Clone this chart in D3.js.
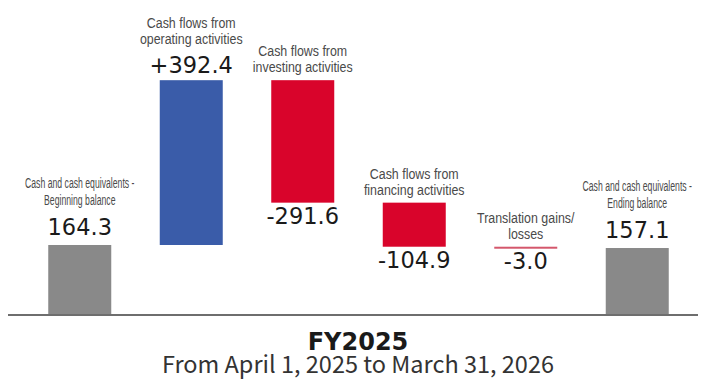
<!DOCTYPE html>
<html>
<head>
<meta charset="utf-8">
<script src="https://cdn.jsdelivr.net/npm/d3@7"></script>
<style>
  body { margin: 0; background: #fff; }
  .cat { font-family: "Liberation Sans", Arial, sans-serif; fill: #4a4a4a; }
  .val { font-family: "DejaVu Sans", sans-serif; fill: #1a1a1a; }
</style>
</head>
<body>
<script>
// data (billions of yen)
const categories = [
    ["Cash and cash equivalents -", "Beginning balance"],
    ["Cash flows from", "operating activities"],
    ["Cash flows from", "investing activities"],
    ["Cash flows from", "financing activities"],
    ["Translation gains/", "losses"],
    ["Cash and cash equivalents -", "Ending balance"]
];
const values = [164.3, 392.4, -291.6, -104.9, -3.0, 157.1];
const kinds = ["total", "delta", "delta", "delta", "delta", "total"];
const valueLabels = ["164.3", "+392.4", "-291.6", "-104.9", "-3.0", "157.1"];
const title = "FY2025";
const subtitle = "From April 1, 2025 to March 31, 2026";

const width = 704, height = 381;

const svg = d3.select("body").append("svg")
    .attr("width", width)
    .attr("height", height);

// running totals for the waterfall
let running = 0;
const bars = values.map((v, i) => {
    let lo, hi;
    if (kinds[i] === "total") {
        lo = 0; hi = v; running = v;
    } else {
        const start = running;
        running += v;
        lo = Math.min(start, running); hi = Math.max(start, running);
    }
    return { i, v, lo, hi, kind: kinds[i] };
});

const x = d3.scaleBand()
    .domain(d3.range(values.length))
    .range([24, 693])
    .paddingInner(0.435)
    .paddingOuter(0.2175);

const y = d3.scaleLinear()
    .domain([0, 560])
    .range([314, 314 - 560 * 0.42]);

function color(d) {
    if (d.kind === "total") return "#898989";
    if (d.i === 4) return "#d4576c";
    return d.v >= 0 ? "#3a5ca9" : "#d9042b";
}

svg.selectAll("rect.bar")
    .data(bars)
    .join("rect")
    .attr("class", "bar")
    .attr("x", d => x(d.i))
    .attr("width", x.bandwidth())
    .attr("y", d => y(d.hi))
    .attr("height", d => Math.max(2, y(d.lo) - y(d.hi)))
    .attr("fill", color);

// baseline
svg.append("line")
    .attr("x1", 8).attr("x2", 698)
    .attr("y1", y(0) + 1).attr("y2", y(0) + 1)
    .attr("stroke", "#6e6e6e")
    .attr("stroke-width", 2);

// value labels
svg.selectAll("text.val")
    .data(bars)
    .join("text")
    .attr("class", "val")
    .attr("x", d => x(d.i) + x.bandwidth() / 2)
    .attr("y", d => {
        if (d.kind === "total") return y(d.hi) - 10;
        if (d.v > 0) return y(d.hi) - 7;
        return y(d.lo) + 21;
    })
    .attr("text-anchor", "middle")
    .attr("font-size", 22.5)
    .text(d => valueLabels[d.i]);

// category labels (the source font is a condensed face, so squeeze it)
const cats = svg.selectAll("g.cat")
    .data(bars)
    .join("g")
    .attr("class", "cat");

cats.each(function (d) {
    const g = d3.select(this);
    const cx = x(d.i) + x.bandwidth() / 2;
    const small = d.kind === "total";
    let line2;
    if (small) line2 = y(d.hi) - 40;
    else if (d.v > 0) line2 = y(d.hi) - 36;
    else line2 = y(d.hi) - 8;
    const gap = small ? 17 : 16;
    categories[d.i].forEach((t, k) => {
        const txt = g.append("text")
            .attr("class", "cat")
            .attr("x", cx)
            .attr("y", line2 - (1 - k) * gap)
            .attr("text-anchor", "middle")
            .attr("font-size", small ? 15.5 : 15.5)
            .text(t);
        const w = txt.node().getComputedTextLength();
        txt.attr("textLength", w * (small ? 0.56 : 0.8))
            .attr("lengthAdjust", "spacingAndGlyphs");
    });
});

// period title
svg.append("text")
    .attr("x", 358).attr("y", 350)
    .attr("text-anchor", "middle")
    .attr("font-family", "'DejaVu Sans', sans-serif")
    .attr("font-weight", "bold")
    .attr("font-size", 24)
    .attr("fill", "#1a1a1a")
    .text(title);

svg.append("text")
    .attr("x", 358).attr("y", 373)
    .attr("text-anchor", "middle")
    .attr("font-family", "'Noto Sans CJK JP', sans-serif")
    .attr("font-size", 23.5)
    .attr("fill", "#333")
    .text(subtitle);
</script>
</body>
</html>
